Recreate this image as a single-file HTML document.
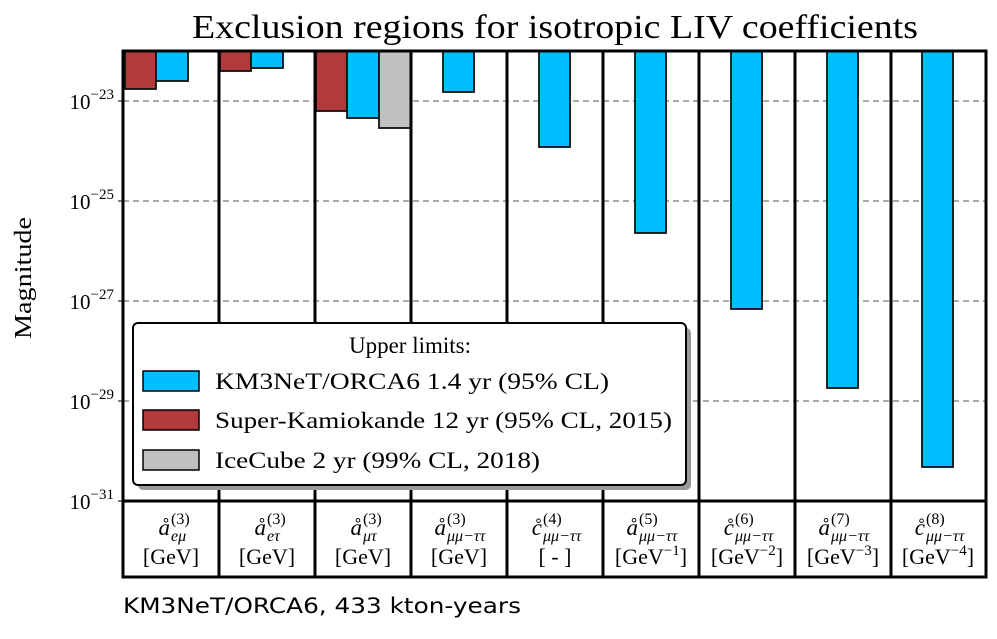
<!DOCTYPE html>
<html><head><style>
body{margin:0;background:#fff;width:997px;height:634px;overflow:hidden;font-family:"Liberation Serif",serif;}
</style></head><body>
<svg width="997" height="634" xmlns="http://www.w3.org/2000/svg" font-family="Liberation Serif, serif">
<text x="192" y="38" font-size="34" textLength="726" lengthAdjust="spacingAndGlyphs">Exclusion regions for isotropic LIV coefficients</text>
<g stroke="#777" stroke-width="1.3" stroke-dasharray="6,4">
<line x1="123" y1="101" x2="986" y2="101"/><line x1="123" y1="201" x2="986" y2="201"/>
<line x1="123" y1="301" x2="986" y2="301"/><line x1="123" y1="401" x2="986" y2="401"/>
</g>
<g stroke="#111" stroke-width="1.8">
<rect x="125" y="51" width="31" height="38" fill="#b33a3a"/>
<rect x="156" y="51" width="32" height="30" fill="#00bfff"/>
<rect x="220" y="51" width="31" height="20" fill="#b33a3a"/>
<rect x="251" y="51" width="32" height="17" fill="#00bfff"/>
<rect x="316" y="51" width="31" height="60" fill="#b33a3a"/>
<rect x="347" y="51" width="32" height="67" fill="#00bfff"/>
<rect x="379" y="51" width="32" height="77" fill="#c0c0c0"/>
<rect x="443" y="51" width="31" height="41" fill="#00bfff"/>
<rect x="539" y="51" width="31" height="96" fill="#00bfff"/>
<rect x="635" y="51" width="31" height="182" fill="#00bfff"/>
<rect x="731" y="51" width="31" height="258" fill="#00bfff"/>
<rect x="827" y="51" width="31" height="337" fill="#00bfff"/>
<rect x="922" y="51" width="31" height="416" fill="#00bfff"/>
</g>
<g stroke="#000" stroke-width="3" fill="none">
<rect x="123" y="51" width="863" height="526"/>
<line x1="123" y1="501" x2="986" y2="501"/>
<line x1="219" y1="51" x2="219" y2="577"/><line x1="315" y1="51" x2="315" y2="577"/>
<line x1="411" y1="51" x2="411" y2="577"/><line x1="507" y1="51" x2="507" y2="577"/>
<line x1="603" y1="51" x2="603" y2="577"/><line x1="699" y1="51" x2="699" y2="577"/>
<line x1="795" y1="51" x2="795" y2="577"/><line x1="891" y1="51" x2="891" y2="577"/>
</g>
<g stroke="#000" stroke-width="1"><line x1="118" y1="101" x2="123" y2="101"/><line x1="118" y1="201" x2="123" y2="201"/><line x1="118" y1="301" x2="123" y2="301"/><line x1="118" y1="401" x2="123" y2="401"/><line x1="118" y1="501" x2="123" y2="501"/></g>
<g font-size="21" text-anchor="end">
<text x="114" y="109">10<tspan font-size="15" dy="-10">−23</tspan></text>
<text x="114" y="209">10<tspan font-size="15" dy="-10">−25</tspan></text>
<text x="114" y="309">10<tspan font-size="15" dy="-10">−27</tspan></text>
<text x="114" y="409">10<tspan font-size="15" dy="-10">−29</tspan></text>
<text x="114" y="509">10<tspan font-size="15" dy="-10">−31</tspan></text>
</g>
<text transform="translate(31,278) rotate(-90)" font-size="24" text-anchor="middle" textLength="122" lengthAdjust="spacingAndGlyphs">Magnitude</text>
<g font-size="23" font-style="italic" text-anchor="end">
<text x="170" y="535">å</text><text x="266" y="535">å</text><text x="362" y="535">å</text>
<text x="446" y="535">å</text><text x="542" y="535">c̊</text><text x="638" y="535">å</text>
<text x="734" y="535">c̊</text><text x="830" y="535">å</text><text x="925" y="535">c̊</text>
</g>
<g font-size="16">
<text x="171" y="524">(3)</text><text x="267" y="524">(3)</text><text x="363" y="524">(3)</text>
<text x="447" y="524">(3)</text><text x="543" y="524">(4)</text><text x="639" y="524">(5)</text>
<text x="735" y="524">(6)</text><text x="831" y="524">(7)</text><text x="926" y="524">(8)</text>
</g>
<g font-size="16" font-style="italic">
<text x="171" y="541">eμ</text><text x="267" y="541">eτ</text><text x="363" y="541">μτ</text>
<text x="447" y="541">μμ−ττ</text><text x="543" y="541">μμ−ττ</text><text x="639" y="541">μμ−ττ</text>
<text x="735" y="541">μμ−ττ</text><text x="831" y="541">μμ−ττ</text><text x="926" y="541">μμ−ττ</text>
</g>
<g font-size="22" text-anchor="middle">
<text x="171" y="564">[GeV]</text><text x="267" y="564">[GeV]</text><text x="363" y="564">[GeV]</text><text x="459" y="564">[GeV]</text>
<text x="555" y="564">[ - ]</text>
<text x="651" y="564">[GeV<tspan font-size="15" dy="-9">−1</tspan><tspan dy="9">]</tspan></text>
<text x="747" y="564">[GeV<tspan font-size="15" dy="-9">−2</tspan><tspan dy="9">]</tspan></text>
<text x="843" y="564">[GeV<tspan font-size="15" dy="-9">−3</tspan><tspan dy="9">]</tspan></text>
<text x="938" y="564">[GeV<tspan font-size="15" dy="-9">−4</tspan><tspan dy="9">]</tspan></text>
</g>
<text x="123" y="613" font-size="21" font-family="DejaVu Sans, sans-serif" textLength="398" lengthAdjust="spacingAndGlyphs">KM3NeT/ORCA6, 433 kton-years</text>
<rect x="138" y="328" width="553" height="162" rx="5" fill="#999"/>
<rect x="133" y="323" width="553" height="162" rx="5" fill="#fff" stroke="#000" stroke-width="2"/>
<text x="410" y="353" font-size="23" text-anchor="middle">Upper limits:</text>
<g stroke="#000" stroke-width="1.5">
<rect x="143" y="371" width="56" height="20" fill="#00bfff"/>
<rect x="143" y="410" width="56" height="20" fill="#b33a3a"/>
<rect x="143" y="450" width="56" height="20" fill="#c0c0c0"/>
</g>
<g font-size="23">
<text x="215" y="389" textLength="394" lengthAdjust="spacingAndGlyphs">KM3NeT/ORCA6 1.4 yr (95% CL)</text>
<text x="215" y="428" textLength="457" lengthAdjust="spacingAndGlyphs">Super-Kamiokande 12 yr (95% CL, 2015)</text>
<text x="215" y="468" textLength="325" lengthAdjust="spacingAndGlyphs">IceCube 2 yr (99% CL, 2018)</text>
</g>
</svg>
</body></html>
